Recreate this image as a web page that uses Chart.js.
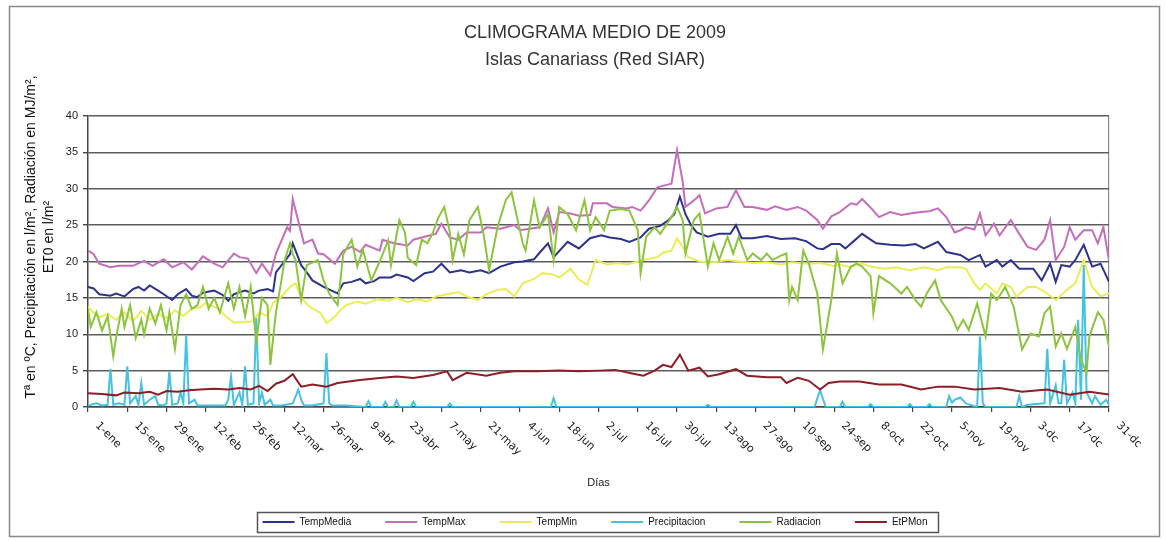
<!DOCTYPE html>
<html><head><meta charset="utf-8">
<script src="https://cdn.jsdelivr.net/npm/chart.js@4.4.1/dist/chart.umd.min.js"></script>
<style>html,body{margin:0;padding:0;background:#fff}</style>
</head><body>
<canvas id="c" width="1165" height="541"></canvas>
<script>
// ---- DATA (day of year 0 = 1-ene ... 364 = 31-dc) ----
const tickLabels = ['1-ene','15-ene','29-ene','12-feb','26-feb','12-mar','26-mar','9-abr','23-abr','7-may','21-may','4-jun','18-jun','2-jul','16-jul','30-jul','13-ago','27-ago','10-sep','24-sep','8-oct','22-oct','5-nov','19-nov','3-dc','17-dc','31-dc'];
const seriesNames = ['TempMedia','TempMax','TempMin','Precipitacion','Radiacion','EtPMon'];

const tmedDias = [0,2,4,8,10,13,16,18,20,22,25,27,30,32,35,37,39,41,45,48,50,52,56,59,61,64,66,67,70,72,73,76,78,80,84,88,89,91,94,97,99,102,104,108,110,114,116,120,123,126,129,133,136,140,143,147,152,155,159,161,164,166,171,175,179,183,186,190,193,197,200,204,207,209,211,213,215,217,221,225,229,231,233,237,242,247,252,256,260,262,265,268,270,273,276,279,281,286,291,295,298,303,306,311,314,318,320,324,326,329,332,337,340,343,345,347,350,352,355,358,361,364];
const tmedVals = [16.5,16.3,15.5,15.3,15.6,15.2,16.2,16.5,16,16.7,16,15.5,14.7,15.5,16.2,15.3,15.1,15.7,16,15.4,14.6,15.5,16,15.6,16,16.2,15.9,18.5,20,21,22.5,19.5,18.5,17.4,16.5,15.8,15.6,17,17.2,17.6,17,17.3,17.8,17.8,18.2,17.8,17.3,18.4,18.6,19.7,18.5,18.8,18.5,18.8,18.4,19.3,19.9,20,20.3,21.2,22.5,20.6,22.7,21.8,23.2,23.6,23.3,23.1,22.7,23.3,24.5,24.9,25.7,26.5,28.9,26.5,25,24,23.4,23.8,23.8,25,23.2,23.2,23.5,23.1,23.2,22.8,21.8,21.7,22.4,22.4,21.8,22.8,23.8,23,22.5,22.3,22.2,22.4,21.8,22.7,21.3,20.9,20.2,20.9,19.3,20.2,19.3,20.2,19,19,17.4,19.7,17.2,19.5,19.3,20.2,22.3,19.3,19.7,17.2];

const tmaxDias = [0,2,4,8,11,16,20,23,27,30,34,37,41,45,48,52,54,57,60,62,65,67,71,72,73,75,77,80,82,84,88,91,94,97,99,104,105,109,114,116,121,124,126,129,132,135,140,142,147,152,154,161,164,166,168,172,175,179,180,185,187,192,194,197,200,203,206,208,210,212,213,216,218,220,224,228,231,234,237,242,245,249,253,256,260,262,265,268,272,274,276,280,282,286,290,293,297,300,303,306,309,311,313,316,318,320,323,325,329,332,335,338,341,343,345,348,350,352,355,358,360,362,364];
const tmaxVals = [21.5,21,19.7,19.2,19.4,19.4,20.1,19.4,20.3,19.2,19.9,18.9,20.7,19.7,19.2,21.1,20.6,20.4,18.4,19.7,18.1,21.1,24.7,24.2,28.6,25.5,22.5,23,21.1,21,19.7,21.5,22,21.3,22.3,21.5,23,22.5,22.2,23,23.5,23.8,25.2,23.3,23,24,24,24.7,24.5,25,24.3,24.7,27.3,24,26.8,26.6,26.3,26.4,28,28,27.5,27.3,27.5,27,28.4,30.2,30.5,30.7,35.3,31,27.5,28.4,29.1,26.6,27.3,27.5,29.8,27.5,27.5,27.1,27.6,27.1,27.5,27,25.7,24.5,26.2,26.8,28,27.8,28.6,27,26.1,26.8,26.4,26.6,26.8,26.9,27.3,26.1,24,24.3,24.7,24.4,26.6,23.6,25.2,23.6,25.7,23.8,22,21.6,23,25.7,20.2,22,24.7,23,24.3,24.3,22.5,24.7,20.2];

const tminDias = [0,2,4,7,10,13,16,19,22,25,28,31,34,37,40,42,46,50,52,56,59,61,64,66,69,72,74,76,79,83,85,88,90,92,96,99,103,107,110,114,117,121,124,128,132,135,139,142,146,149,152,155,159,162,166,168,172,175,178,181,185,189,192,196,199,203,205,208,210,212,214,218,223,228,232,237,242,247,251,256,261,266,268,272,275,279,284,288,293,298,303,306,311,313,316,318,320,324,326,329,331,335,338,342,345,349,352,355,358,361,364];
const tminVals = [13.8,13,12.3,12.8,12,13,11.8,13.2,12,12.8,12.2,13.3,12.5,13.5,13.7,14.3,13.6,12.2,11.6,11.7,11.8,13,12.5,14.3,15.2,16.5,17,15,13.8,12.9,11.5,12.4,13.3,14,14.5,14.2,14.8,14.6,15,14.4,14.8,14.5,15.2,15.5,15.8,15.2,14.7,15.5,16.1,16.2,15.2,17,17.6,18.4,18.2,17.8,19,17.5,16.8,20.2,19.6,19.8,19.6,20,20.3,20.6,21.2,21.5,23.2,22,20.6,20,19.9,20.2,20,19.8,19.9,19.6,19.9,19.7,19.8,19.4,19.6,19.2,19.8,19.3,19,19.2,18.8,19.2,18.8,19.2,19.2,19,17,16.1,17,15.6,17,16.5,15.2,16.5,16.5,15.6,14.7,16.1,17,20.2,16.5,15.2,15.6];

const precDias = [
  0,3,5,7,8,9,11,13,14,15,17,18,19,20,22,24,25,27,28,29,30,
  32,33,34,35,36,38,39,42,45,49,50,51,52,54,55,56,57,
  59,60,61,62,63,65,66,69,73,75,76,77,80,84,85,86,87,
  92,99,100,101,105,106,107,109,110,111,115,116,117,128,129,130,165,166,167,
  220,221,222,259,261,263,268,269,270,278,279,280,292,293,294,299,300,301,
  306,307,308,309,311,313,317,318,319,320,331,332,333,335,
  341,342,343,345,346,347,348,349,351,352,353,354,355,356,358,359,361,363,364];
const precVals = [
  0.2,0.5,0.2,0.3,5.2,0.3,0.5,0.3,5.6,0.5,1.5,0.3,3.3,0.3,1,1.5,0.3,0.2,0.5,4.9,0.3,
  0.5,2,0.5,9.8,0.5,1,0.2,0.2,0.2,0.2,1,4.2,0.3,2,0.3,5.6,0.3,
  0.5,12.2,0.5,2,0.3,1,0.2,0.2,0.5,2.4,1,0.2,0.2,0.5,7.4,0.5,0.2,
  0.2,0,0.8,0,0,0.7,0,0,0.9,0,0,0.7,0,0,0.5,0,0,1.2,0,
  0,0.3,0,0,2.3,0,0,0.7,0,0,0.4,0,0,0.4,0,0,0.4,0,
  0,1.5,0.6,1,1.3,0.5,0,9.7,0.5,0,0,1.5,0,0.3,
  0.5,8,0.5,3,0.5,0.5,6.5,0.5,2,0.5,12,1,19.5,2,0.5,1.5,0.3,1,0.3];

const radDias = [0,1,3,5,7,9,10,12,13,15,17,19,20,22,24,26,28,29,31,33,35,37,39,41,43,45,47,50,52,54,56,58,60,62,64,65,67,69,70,72,73,74,76,78,82,84,86,89,91,94,96,98,101,104,107,108,111,113,114,117,119,121,123,125,127,129,130,132,134,136,139,141,143,146,149,151,153,155,156,159,161,164,166,168,171,174,177,179,181,184,186,190,193,196,197,199,202,204,208,210,212,213,216,218,221,223,225,228,230,232,235,237,240,242,244,247,249,250,251,253,255,257,260,262,265,267,269,272,274,276,279,280,282,286,290,292,295,297,299,302,304,308,310,312,314,317,320,322,324,327,330,333,336,339,341,343,345,347,349,352,354,356,357,360,362,364];
const radVals = [13.5,11,13,10.5,12.5,7,9.5,13.5,11,14,9.5,12,10,13.5,11.5,14,10.5,13,8,14,15.5,13.5,14,16.5,13.5,15,13,17,13.5,16.5,12.5,16.5,9,15,14,5.8,13,17.5,20,22.5,21,20.2,14.7,19.5,20.2,17.4,15.6,14,21,23,19.3,21.6,17.4,20,22.9,19.5,25.7,24,20.5,19.5,23,22.5,24,26.1,27.5,24,20.2,23.8,21,25.7,27.5,23.8,18.8,24.7,28.5,29.5,26,22.5,21.5,28.4,24.7,26.5,20.2,27.5,26.5,24.3,28.4,24.3,26.1,24.3,27,27.2,27,24.3,18.4,23.4,24.7,23.8,26.1,27.5,25.7,21.1,25.7,26.6,19.3,22.5,20.2,23.4,21.1,23.4,20.2,21.1,20.2,21.1,20.2,20.8,21.1,14.7,16.5,14.7,21.5,19.7,15.6,7.9,14.7,21.1,17,19.3,19.7,19.3,18,12.9,18,17,15.6,16.5,14.7,13.8,15.6,17.4,14.7,12.4,10.6,12,10.6,14.2,9.7,15.6,14.7,16.5,13.8,7.9,10.1,9.7,12.9,13.8,8.3,10.1,8,11,6.5,4.7,9.7,13,12,8.3];

const etpDias = [0,5,10,13,18,22,25,28,32,36,40,45,50,54,58,61,64,67,70,73,76,80,85,89,97,104,110,116,123,128,130,135,142,147,152,160,168,175,182,188,194,198,202,205,208,211,214,218,221,225,231,235,242,247,249,253,257,261,264,268,275,282,290,297,303,309,316,325,333,342,350,357,364];
const etpVals = [1.9,1.8,1.6,2,1.9,2.1,1.7,2.2,2.1,2.3,2.4,2.5,2.4,2.6,2.4,2.9,2.2,3.2,3.6,4.5,2.8,3.1,2.8,3.3,3.7,4,4.2,4,4.4,4.9,3.7,4.7,4.3,4.7,4.9,4.9,5,4.9,5,5.1,4.6,4.3,5,5.8,5.5,7.2,5,5.4,4.2,4.5,5.2,4.3,4.1,4.1,3.3,4,3.6,2.4,3.3,3.5,3.5,3.1,3.1,2.4,2.8,2.8,2.4,2.6,2.1,2.4,1.7,2.1,1.7];

const seriesColors = ['#2b338c','#c56cbb','#ecec58','#45c2e0','#8cc43e','#8b1e27'];

// ---- helpers ----
const pts = (d, v) => d.map((x, i) => ({x: x, y: v[i]}));
const FONT = '"Liberation Sans", Arial, sans-serif';

const frame = {
  id: 'frame',
  beforeDraw(chart) {
    const c = chart.ctx;
    c.save();
    c.fillStyle = '#fff';
    c.fillRect(0, 0, chart.width, chart.height);
    c.strokeStyle = '#8a8a8a';
    c.lineWidth = 1.5;
    c.strokeRect(9.5, 6.5, 1150, 530);
    c.restore();
  }
};
const yTitle = {
  id: 'yTitle',
  afterDraw(chart) {
    const c = chart.ctx;
    c.save();
    c.font = '14px ' + FONT;
    c.fillStyle = '#111';
    c.textAlign = 'center';
    c.textBaseline = 'middle';
    const lines = ['Tª en ºC, Precipitación en l/m², Radiación en MJ/m²,', 'ET0 en l/m²'];
    const xs = [31, 49];
    lines.forEach((t, i) => {
      c.save();
      c.translate(xs[i], 237);
      c.rotate(-Math.PI / 2);
      c.fillText(t, 0, 0);
      c.restore();
    });
    c.restore();
  }
};
const xLabels = {
  id: 'xLabels',
  afterDraw(chart) {
    const sc = chart.scales.x;
    const c = chart.ctx;
    c.save();
    c.font = '11px "DejaVu Sans", sans-serif';
    c.fillStyle = '#1a1a1a';
    c.textAlign = 'left';
    c.textBaseline = 'middle';
    sc.ticks.forEach((t, i) => {
      const px = sc.getPixelForValue(t.value);
      c.save();
      c.translate(px + 9, sc.top + 17);
      c.rotate(Math.PI / 4);
      c.fillText(tickLabels[i] || '', 0, 0);
      c.restore();
    });
    c.restore();
  }
};
const legendBox = {
  id: 'legendBox',
  afterDraw(chart) {
    const lg = chart.legend;
    if (!lg || !lg.legendHitBoxes || !lg.legendHitBoxes.length) return;
    const hb = lg.legendHitBoxes;
    let l = Infinity, r = -Infinity, t = Infinity, b = -Infinity;
    hb.forEach(h => { l = Math.min(l, h.left); r = Math.max(r, h.left + h.width); t = Math.min(t, h.top); b = Math.max(b, h.top + h.height); });
    const c = chart.ctx;
    c.save();
    c.strokeStyle = '#555';
    c.lineWidth = 1.5;
    c.strokeRect(Math.round(l - 6) + 0.5, Math.round(t - 5) + 0.5, Math.round(r - l + 16), Math.round(b - t + 10));
    c.restore();
  }
};

const datasets = [
  {label: seriesNames[0], data: pts(tmedDias, tmedVals), borderColor: seriesColors[0], order: 6},
  {label: seriesNames[1], data: pts(tmaxDias, tmaxVals), borderColor: seriesColors[1], order: 5},
  {label: seriesNames[2], data: pts(tminDias, tminVals), borderColor: seriesColors[2], order: 4},
  {label: seriesNames[3], data: pts(precDias, precVals), borderColor: seriesColors[3], order: 3},
  {label: seriesNames[4], data: pts(radDias, radVals), borderColor: seriesColors[4], order: 2},
  {label: seriesNames[5], data: pts(etpDias, etpVals), borderColor: seriesColors[5], order: 1}
].map(d => Object.assign(d, {backgroundColor: d.borderColor, borderWidth: 2, pointRadius: 0, tension: 0, fill: false}));

new Chart(document.getElementById('c'), {
  type: 'line',
  data: {datasets},
  plugins: [frame, yTitle, xLabels, legendBox],
  options: {
    responsive: false,
    animation: false,
    devicePixelRatio: 1,
    layout: {padding: {left: 25, right: 0, top: 6, bottom: 4}},
    plugins: {
      tooltip: {enabled: false},
      title: {
        display: true,
        text: ['CLIMOGRAMA MEDIO DE 2009', 'Islas Canariass (Red SIAR)'],
        color: '#333',
        font: {size: 18, family: FONT, weight: 'normal', lineHeight: 1.5},
        padding: {top: 14, bottom: 42}
      },
      legend: {
        position: 'bottom',
        labels: {
          usePointStyle: true, pointStyle: 'line', pointStyleWidth: 32,
          font: {size: 10, family: FONT}, color: '#111', padding: 34,
          sort: (a, b) => a.datasetIndex - b.datasetIndex
        }
      }
    },
    scales: {
      x: {
        type: 'linear', min: 0, max: 364,
        ticks: {stepSize: 14, display: false},
        grid: {
          color: ctx => (ctx.tick && ctx.tick.value === 364) ? '#8a8a8a' : 'rgba(0,0,0,0)',
          tickColor: '#444', tickLength: 5, lineWidth: 1.2
        },
        border: {color: '#444', width: 1.5},
        title: {display: true, text: 'Días', color: '#222', font: {size: 11, family: FONT, lineHeight: 1.2}, padding: {top: 0, bottom: -6.6}},
        afterFit: s => { s.height = 76; }
      },
      y: {
        position: 'left',
        min: 0, max: 40,
        ticks: {stepSize: 5, color: '#222', padding: 5, font: {size: 11, family: FONT}},
        grid: {color: '#5c5c5c', lineWidth: 1.4, tickColor: '#444', tickLength: 5},
        border: {color: '#444', width: 1.5},
        afterFit: s => { s.width = 63; }
      },
      yRight: {
        position: 'right',
        min: 0, max: 40,
        ticks: {display: false},
        grid: {display: false, drawTicks: false},
        border: {display: false},
        afterFit: s => { s.width = 56; }
      }
    }
  }
});
</script>
</body></html>
